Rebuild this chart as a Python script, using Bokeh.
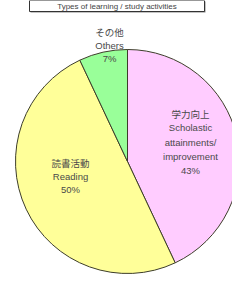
import numpy as np
from bokeh.plotting import figure
from bokeh.models import Range1d
from bokeh.core.properties import value
from bokeh.embed import file_html
from bokeh.resources import INLINE

# ---- data ----
title_text = "Types of learning / study activities"
categories_ja = ["学力向上", "読書活動", "その他"]
categories_en = [["Scholastic", "attainments/", "improvement"], ["Reading"], ["Others"]]
shares = [43, 50, 7]
slice_colors = ["#FFCCFF", "#FFFF99", "#99FF99"]

# ---- layout ----
W, H = 232, 276
def py(page_y):
    return H - page_y

p = figure(width=W, height=H, frame_width=W, frame_height=H,
           x_range=Range1d(0, W), y_range=Range1d(0, H),
           output_backend="svg", toolbar_location=None, min_border=0)
p.axis.visible = False
p.grid.visible = False
p.outline_line_color = None
p.background_fill_color = "white"
p.border_fill_color = "white"

cx, cy, r = 127, py(161), 112
fr = np.array(shares, dtype=float) / sum(shares)
cum = np.concatenate([[0], np.cumsum(fr)])
starts = np.pi / 2 - 2 * np.pi * cum[:-1]
ends = np.pi / 2 - 2 * np.pi * cum[1:]
p.wedge(x=[cx] * 3, y=[cy] * 3, radius=r, start_angle=list(starts), end_angle=list(ends),
        direction="clock", fill_color=slice_colors, line_color="#3d3d2a", line_width=1)

# label anchors (x, first line page y, step)
anchors = [(190, 113, 14.3), (70, 162, 13.5), (109, 31, 13.5)]
for i, (ax, ay, step) in enumerate(anchors):
    lines = [categories_ja[i]] + categories_en[i] + [f"{shares[i]}%"]
    for k, t in enumerate(lines):
        font = "Noto Sans CJK JP" if k == 0 else "Liberation Sans"
        p.text(x=[ax], y=[py(ay + k * step)], text=[t], text_font=value(font),
               text_font_size="9.5px", text_align="center", text_baseline="middle",
               text_color="#4a4a4a")

# title box
bx0, bx1 = 29, 204
p.quad(left=[bx0 + 1], right=[bx1 + 1], top=[H - 1], bottom=[H - 12], fill_color="#888888",
       line_color=None)
p.quad(left=[bx0], right=[bx1], top=[H], bottom=[H - 11], fill_color="white",
       line_color="#333333", line_width=1)
p.text(x=[(bx0 + bx1) / 2], y=[H - 5.5], text=[title_text], text_font=value("Liberation Sans"),
       text_font_size="8px", text_align="center", text_baseline="middle", text_color="#444444")

open("out.html", "w").write(file_html(p, INLINE))
